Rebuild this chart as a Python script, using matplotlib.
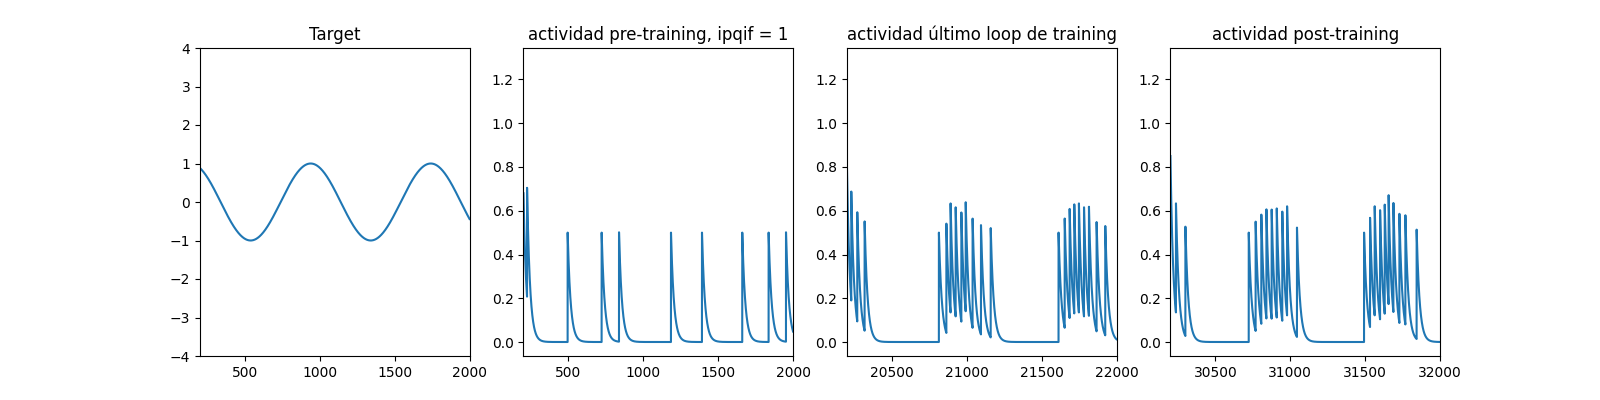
import matplotlib
matplotlib.use("Agg")
import matplotlib.pyplot as plt
import numpy as np

# target signal
target_xlim = (200, 2000)
target_amp = 1.0
target_period = 802.0
target_peak = 939.0

# activity traces: value at the window start, then spike times (jump + exp decay)
jump = 0.5
tau = 20.0

pre_xlim = (200, 2000)
pre_start = 0.68
pre_spikes = [224, 495, 722, 838, 1185, 1392, 1661, 1837, 1953]

last_xlim = (20200, 22000)
last_start = 0.80
last_spikes = [20229, 20269, 20318,
               20814, 20864, 20892, 20926, 20964, 20993, 21039, 21095, 21160,
               21613, 21654, 21687, 21718, 21749, 21783, 21816, 21867, 21925]

post_xlim = (30200, 32000)
post_start = 0.85
post_spikes = [30237, 30300,
               30723, 30769, 30807, 30841, 30876, 30910, 30947, 30979, 31045,
               31493, 31533, 31564, 31600, 31631, 31657, 31689, 31729, 31769, 31844]

titles = ["Target",
          "actividad pre-training, ipqif = 1",
          "actividad último loop de training",
          "actividad post-training"]


def activity(xlim, start, spikes):
    t = np.arange(xlim[0], xlim[1] + 0.25, 0.25)
    r = start * np.exp(-(t - xlim[0]) / tau)
    for s in spikes:
        on = t >= s
        r[on] += jump * np.exp(-(t[on] - s) / tau)
    return t, r


fig, axes = plt.subplots(1, 4, figsize=(16, 4))

tx = np.arange(target_xlim[0], target_xlim[1] + 1)
ty = target_amp * np.cos(2 * np.pi * (tx - target_peak) / target_period)
axes[0].plot(tx, ty)
axes[0].set_xlim(*target_xlim)
axes[0].set_ylim(-4, 4)
axes[0].set_title(titles[0])

for ax, (xl, st, sp), title in zip(axes[1:],
                                   [(pre_xlim, pre_start, pre_spikes),
                                    (last_xlim, last_start, last_spikes),
                                    (post_xlim, post_start, post_spikes)],
                                   titles[1:]):
    t, r = activity(xl, st, sp)
    ax.plot(t, r)
    ax.set_xlim(*xl)
    ax.set_ylim(-0.064, 1.344)
    ax.set_title(title)

plt.savefig("out.png", dpi=100)
plt.close()
